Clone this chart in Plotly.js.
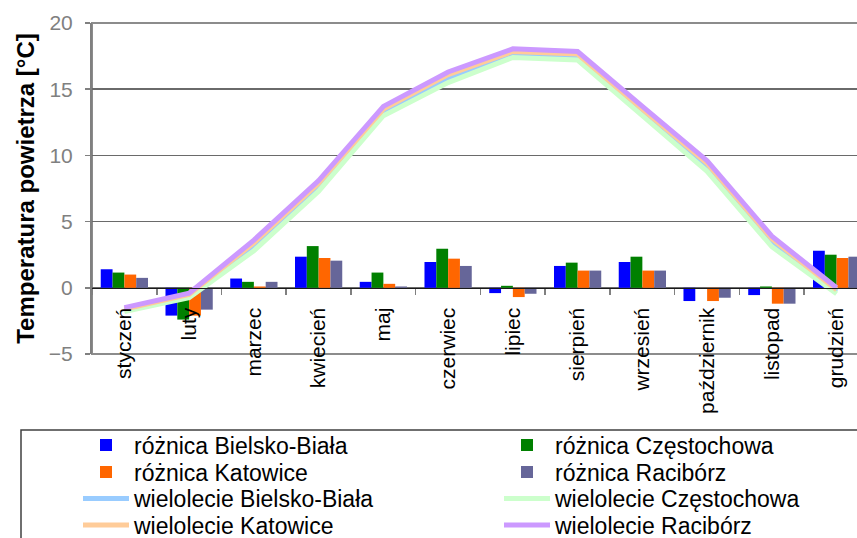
<!DOCTYPE html>
<html><head><meta charset="utf-8">
<script src="https://cdn.plot.ly/plotly-3.0.1.min.js"></script>
<style>html,body{margin:0;padding:0;background:#fff}#chart{width:857px;height:538px}</style>
</head><body><div id="chart"></div>
<script>
const months = ['styczeń','luty','marzec','kwiecień','maj','czerwiec','lipiec','sierpień','wrzesień','październik','listopad','grudzień'];

const diffBielsko     = [1.4, -2.1, 0.7, 2.35, 0.45, 1.95, -0.4, 1.65, 1.95, -1.0, -0.55, 2.8];
const diffCzestochowa = [1.15, -2.4, 0.45, 3.15, 1.15, 2.95, 0.15, 1.9, 2.35, 0.0, 0.1, 2.5];
const diffKatowice    = [1.0, -2.1, 0.1, 2.25, 0.3, 2.2, -0.7, 1.3, 1.3, -1.0, -1.2, 2.25];
const diffRaciborz    = [0.75, -1.65, 0.45, 2.05, 0.1, 1.65, -0.45, 1.3, 1.3, -0.75, -1.2, 2.35];

const meanBielsko     = [-1.7, -0.6, 3.1, 7.6, 13.3, 15.8, 17.5, 17.4, 13.3, 9.1, 3.5, -0.3];
const meanCzestochowa = [-1.8, -0.75, 2.8, 7.3, 13.0, 15.5, 17.4, 17.2, 13.0, 8.8, 3.1, -0.45];
const meanKatowice    = [-1.6, -0.5, 3.4, 7.9, 13.5, 16.1, 17.85, 17.65, 13.5, 9.4, 3.7, -0.15];
const meanRaciborz    = [-1.5, -0.4, 3.6, 8.1, 13.7, 16.3, 18.05, 17.85, 13.7, 9.6, 3.9, 0.0];

const barNames  = ['różnica Bielsko-Biała','różnica Częstochowa','różnica Katowice','różnica Racibórz'];
const lineNames = ['wielolecie Bielsko-Biała','wielolecie Częstochowa','wielolecie Katowice','wielolecie Racibórz'];
const barColors  = ['#0000FF','#008000','#FF6600','#666699'];
const lineColors = ['#99CCFF','#CCFFCC','#FFCC99','#CC99FF'];

const diffs = [diffBielsko, diffCzestochowa, diffKatowice, diffRaciborz];
const means = [meanBielsko, meanCzestochowa, meanKatowice, meanRaciborz];
const barLegends  = ['legend','legend','legend2','legend2'];
const lineLegends = ['legend3','legend3','legend4','legend4'];
const colWidths = [360, 240, 360, 240];

const traces = [];
diffs.forEach((d,i)=>traces.push({
  type:'bar', x:months, y:d, name:barNames[i],
  marker:{color:barColors[i], line:{width:0}}, legend:barLegends[i],
  legendwidth:colWidths[i], hoverinfo:'skip'
}));
means.forEach((d,i)=>traces.push({
  type:'scatter', mode:'lines', x:months, y:d, name:lineNames[i],
  line:{color:lineColors[i], width:5}, legend:lineLegends[i],
  legendwidth:colWidths[i], hoverinfo:'skip'
}));

const plotTop = 23, plotBottom = 354, plotLeft = 92, plotW = 765;
const plotH = plotBottom - plotTop;
const py = px => (plotBottom - px) / plotH;
const pxX = px => (px - plotLeft) / plotW;

function leg(yc){
  return {x:pxX(78), xanchor:'left', y:py(yc), yanchor:'middle', orientation:'h',
    itemwidth:46, entrywidthmode:'pixels',
    font:{size:23, color:'#000'}, bgcolor:'rgba(0,0,0,0)', borderwidth:0,
    itemclick:false, itemdoubleclick:false, traceorder:'normal'};
}

const layout = {
  width:857, height:538,
  margin:{l:plotLeft, r:0, t:plotTop, b:538-plotBottom, pad:0, autoexpand:false},
  paper_bgcolor:'#fff', plot_bgcolor:'#fff',
  font:{family:'Liberation Sans, Arial, sans-serif', color:'#000'},
  barmode:'group', bargap:0.27, bargroupgap:0,
  showlegend:true,
  xaxis:{type:'category', range:[-0.5, 11.315], anchor:'free', position:0.2, automargin:false,
    showline:true, linecolor:'#1a1a1a', linewidth:1.5,
    ticks:'outside', tickson:'boundaries', ticklen:6, tickcolor:'#808080', tickwidth:1.5,
    tickangle:-90, tickfont:{size:21, color:'#000'}, ticklabelstandoff:10,
    showgrid:false, zeroline:false, fixedrange:true},
  yaxis:{range:[-5,20], tickvals:[-5,0,5,10,15,20], automargin:false,
    showline:true, linecolor:'#808080', linewidth:2,
    ticks:'outside', ticklen:5, tickcolor:'#808080', tickwidth:1.5,
    tickfont:{size:21, color:'#808080'}, ticklabelstandoff:8,
    showgrid:true, gridcolor:'#6a6a6a', gridwidth:1.5, zeroline:false, fixedrange:true,
    title:{text:'Temperatura powietrza [°C]', font:{size:24, color:'#000', weight:'bold'}, standoff:7}},
  shapes:[
    {type:'rect', xref:'paper', yref:'paper', x0:0, x1:1.05, y0:0, y1:1,
     line:{color:'#8c8c8c', width:2}, layer:'between'},
    {type:'rect', xref:'paper', yref:'paper', x0:pxX(21), x1:1.05, y0:py(430), y1:py(560),
     line:{color:'#404040', width:1.5}, layer:'above'}
  ],
  legend: leg(445),
  legend2: leg(472),
  legend3: leg(498.5),
  legend4: leg(525)
};

Plotly.newPlot('chart', traces, layout, {staticPlot:true, displayModeBar:false});
</script></body></html>
